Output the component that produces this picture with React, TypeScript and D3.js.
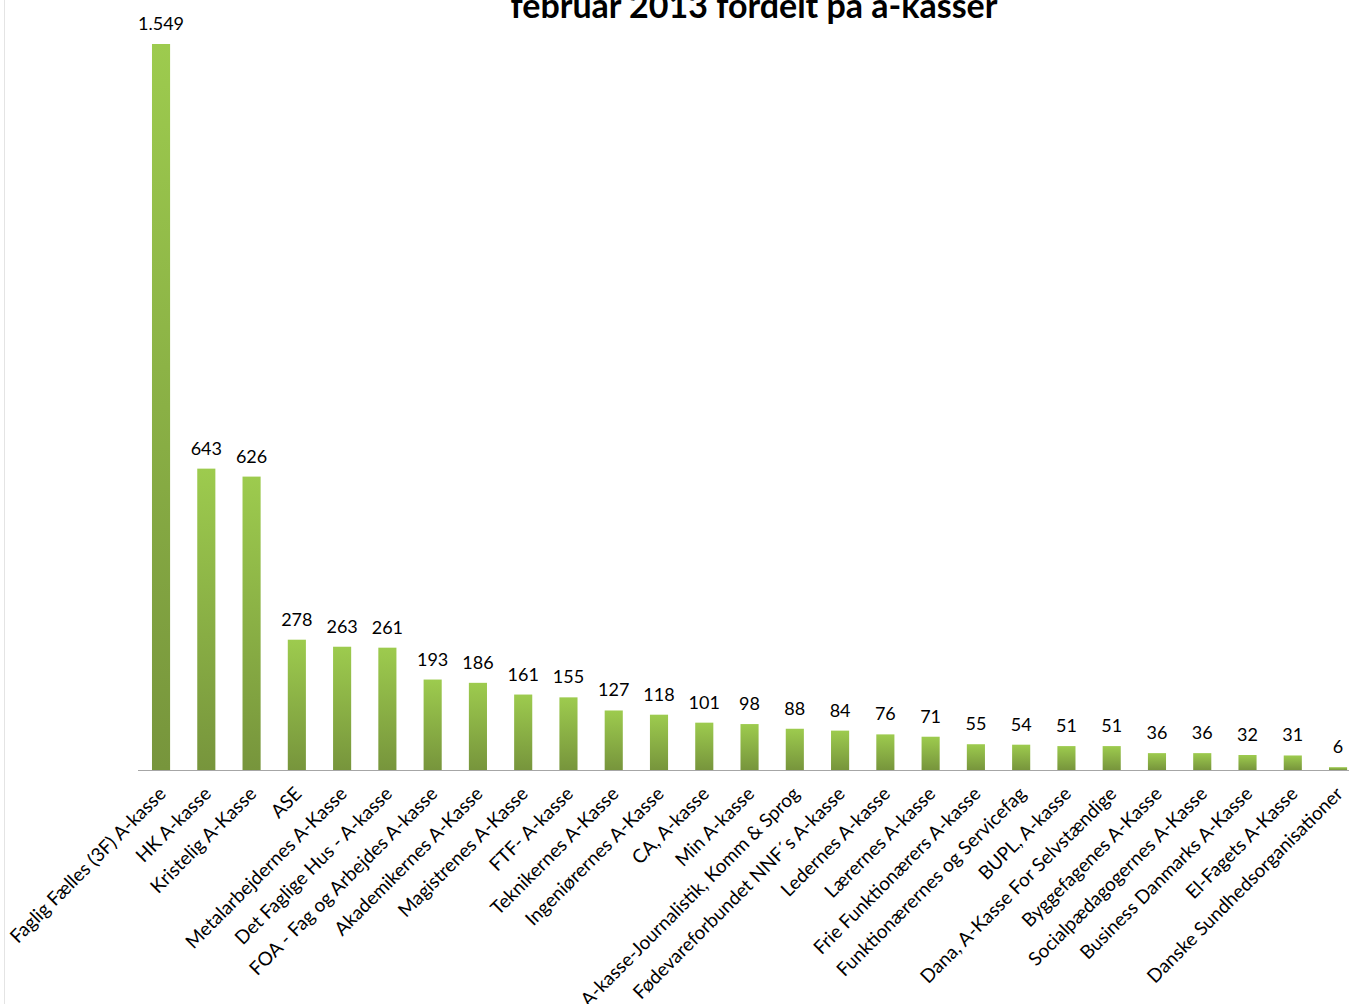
import React from "react";
import * as d3 from "d3";

const categories: string[] = [
  "Faglig Fælles (3F) A-kasse",
  "HK A-kasse",
  "Kristelig A-Kasse",
  "ASE",
  "Metalarbejdernes A-Kasse",
  "Det Faglige Hus - A-kasse",
  "FOA - Fag og Arbejdes A-kasse",
  "Akademikernes A-Kasse",
  "Magistrenes A-Kasse",
  "FTF- A-kasse",
  "Teknikernes A-Kasse",
  "Ingeniørernes A-Kasse",
  "CA, A-kasse",
  "Min A-kasse",
  "A-kasse-Journalistik, Komm & Sprog",
  "Fødevareforbundet NNF´s A-kasse",
  "Ledernes A-kasse",
  "Lærernes A-kasse",
  "Frie Funktionærers A-kasse",
  "Funktionærernes og Servicefag",
  "BUPL, A-kasse",
  "Dana, A-Kasse For Selvstændige",
  "Byggefagenes A-Kasse",
  "Socialpædagogernes A-Kasse",
  "Business Danmarks A-Kasse",
  "El-Fagets A-Kasse",
  "Danske Sundhedsorganisationer",
];

const values: number[] = [
  1549, 643, 626, 278, 263, 261, 193, 186, 161, 155, 127, 118, 101, 98, 88, 84,
  76, 71, 55, 54, 51, 51, 36, 36, 32, 31, 6,
];

const titleText = "februar 2013 fordelt på a-kasser";

const W = 1349;
const H = 1004;
const baseline = 770;
const FONT = "Lato, 'Open Sans', sans-serif";

export default function App() {
  const x = d3
    .scaleBand<string>()
    .domain(categories)
    .range([138.4, 138.4 + 45.27 * categories.length])
    .paddingInner(0.6)
    .paddingOuter(0.3);
  const y = d3.scaleLinear().domain([0, 1549]).range([baseline, 44]);
  const fmt = (v: number) => d3.format(",")(v).replace(/,/g, ".");

  return (
    <svg
      width={W}
      height={H}
      style={{ position: "absolute", left: 0, top: 0, background: "#fff" }}
    >
      <defs>
        <linearGradient id="barGrad" x1="0" y1="0" x2="0" y2="1">
          <stop offset="0%" stopColor="#9dcb4e" />
          <stop offset="100%" stopColor="#77953c" />
        </linearGradient>
      </defs>
      <line x1={4.5} x2={4.5} y1={0} y2={H} stroke="#e4e4e4" strokeWidth={1} />
      <text
        x={754}
        y={18}
        textAnchor="middle"
        fontFamily={FONT}
        fontWeight="bold"
        fontSize={34}
        fill="#000"
      >
        {titleText}
      </text>
      {categories.map((c, i) => {
        const cx = (x(c) as number) + x.bandwidth() / 2;
        return (
          <g key={c}>
            <rect
              x={x(c)}
              y={y(values[i])}
              width={x.bandwidth()}
              height={baseline - y(values[i])}
              fill="url(#barGrad)"
            />
            <text
              x={cx}
              y={y(values[i]) - 14}
              textAnchor="middle"
              fontFamily={FONT}
              fontSize={18}
              fill="#000"
            >
              {fmt(values[i])}
            </text>
            <text
              transform={`translate(${cx + 6},${baseline + 25}) rotate(-45)`}
              textAnchor="end"
              fontFamily={FONT}
              fontSize={19}
              fill="#000"
            >
              {c}
            </text>
          </g>
        );
      })}
      <line
        x1={138}
        x2={W}
        y1={baseline + 0.5}
        y2={baseline + 0.5}
        stroke="#a6a6a6"
        strokeWidth={1.2}
      />
    </svg>
  );
}
